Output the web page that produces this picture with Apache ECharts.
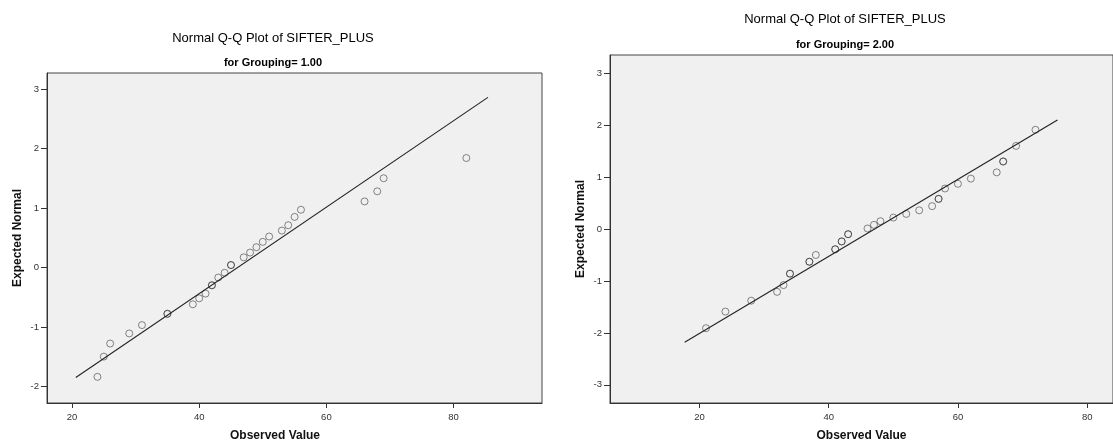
<!DOCTYPE html>
<html>
<head>
<meta charset="utf-8">
<script src="https://cdn.jsdelivr.net/npm/echarts@6/dist/echarts.min.js"></script>
<style>
html,body{margin:0;padding:0;background:#fff;}
#c{width:1113px;height:447px;}
</style>
</head>
<body>
<div id="c"></div>
<script>
// ---- Data ----
const mainTitle = "Normal Q-Q Plot of SIFTER_PLUS";
const subTitle1 = "for Grouping= 1.00";
const subTitle2 = "for Grouping= 2.00";
const xName = "Observed Value";
const yName = "Expected Normal";

const xTicks = [20, 40, 60, 80];
const yTicks1 = [-2, -1, 0, 1, 2, 3];
const yTicks2 = [-3, -2, -1, 0, 1, 2, 3];

// Grouping = 1.00 (tied values repeated)
const obs1 = [24,25,26,29,31,35,35,39,40,41,42,42,43,44,45,45,47,48,49,50,51,53,54,55,56,66,68,69,82];
const exp1 = [-1.84,-1.50,-1.28,-1.11,-0.97,-0.78,-0.78,-0.62,-0.52,-0.44,-0.30,-0.30,-0.17,-0.09,0.04,0.04,0.17,0.25,0.34,0.43,0.52,0.62,0.71,0.85,0.97,1.11,1.28,1.50,1.84];
const line1X = [20.6, 85.4];
const line1Y = [-1.85, 2.86];

// Grouping = 2.00
const obs2 = [21,24,28,32,33,34,34,37,37,38,41,41,42,42,43,43,46,47,48,50,52,54,56,57,57,58,60,62,66,67,67,69,72];
const exp2 = [-1.91,-1.59,-1.38,-1.21,-1.08,-0.86,-0.86,-0.63,-0.63,-0.50,-0.39,-0.39,-0.24,-0.24,-0.10,-0.10,0.01,0.08,0.15,0.22,0.29,0.36,0.44,0.58,0.58,0.78,0.87,0.97,1.09,1.30,1.30,1.60,1.91];
const line2X = [17.7, 75.4];
const line2Y = [-2.18, 2.10];

// ---- Build ----
const zip = (a, b) => a.map((v, i) => [v, b[i]]);
const FONT = "'Liberation Sans', Arial, sans-serif";

function xAxisCfg(idx, min, max, pad) {
  return {
    type: 'value', gridIndex: idx, min: min, max: max,
    name: xName, nameLocation: 'middle', nameGap: 27,
    nameTextStyle: {fontFamily: FONT, fontWeight: 'bold', fontSize: 12, color: '#111', padding: pad},
    axisLine: {show: true, onZero: false, lineStyle: {color: '#333', width: 1}},
    axisTick: {show: true, length: 5, customValues: xTicks, lineStyle: {color: '#333'}},
    axisLabel: {customValues: xTicks, margin: 9, fontFamily: FONT, fontSize: 9.5, color: '#333'},
    splitLine: {show: false}
  };
}
function yAxisCfg(idx, min, max, ticks) {
  return {
    type: 'value', gridIndex: idx, min: min, max: max,
    name: yName, nameLocation: 'middle', nameGap: 23,
    nameTextStyle: {fontFamily: FONT, fontWeight: 'bold', fontSize: 12, color: '#111'},
    axisLine: {show: true, onZero: false, lineStyle: {color: '#333', width: 1}},
    axisTick: {show: true, length: 6, customValues: ticks, lineStyle: {color: '#333'}},
    axisLabel: {customValues: ticks, margin: 8, fontFamily: FONT, fontSize: 9.5, color: '#333'},
    splitLine: {show: false}
  };
}
const scatterStyle = {color: 'transparent', borderColor: 'rgba(30,30,30,0.65)', borderWidth: 1};

const option = {
  animation: false,
  backgroundColor: '#ffffff',
  title: [
    {text: mainTitle, left: 273, top: 32, padding: 0, textAlign: 'center',
     textStyle: {fontFamily: FONT, fontSize: 13, fontWeight: 'normal', color: '#000'}},
    {text: subTitle1, left: 273, top: 57, padding: 0, textAlign: 'center',
     textStyle: {fontFamily: FONT, fontSize: 11, fontWeight: 'bold', color: '#000'}},
    {text: mainTitle, left: 845, top: 13, padding: 0, textAlign: 'center',
     textStyle: {fontFamily: FONT, fontSize: 13, fontWeight: 'normal', color: '#000'}},
    {text: subTitle2, left: 845, top: 39, padding: 0, textAlign: 'center',
     textStyle: {fontFamily: FONT, fontSize: 11, fontWeight: 'bold', color: '#000'}}
  ],
  grid: [
    {left: 47, top: 73, width: 495, height: 335, show: true, backgroundColor: '#f0f0f0', borderColor: '#444', borderWidth: 1},
    {left: 610, top: 55, width: 517, height: 351, show: true, backgroundColor: '#f0f0f0', borderColor: '#444', borderWidth: 1}
  ],
  xAxis: [xAxisCfg(0, 16.07, 93.9, [0, 39, 0, 0]), xAxisCfg(1, 6.14, 84, [0, 0, 0, 0])],
  yAxis: [yAxisCfg(0, -2.28, 3.27, yTicks1), yAxisCfg(1, -3.35, 3.35, yTicks2)],
  series: [
    {type: 'line', xAxisIndex: 0, yAxisIndex: 0, data: zip(line1X, line1Y), symbol: 'none',
     lineStyle: {color: '#222', width: 1.1}, silent: true},
    {type: 'scatter', xAxisIndex: 0, yAxisIndex: 0, data: zip(obs1, exp1), symbol: 'circle', symbolSize: 7,
     itemStyle: scatterStyle},
    {type: 'line', xAxisIndex: 1, yAxisIndex: 1, data: zip(line2X, line2Y), symbol: 'none',
     lineStyle: {color: '#222', width: 1.1}, silent: true},
    {type: 'scatter', xAxisIndex: 1, yAxisIndex: 1, data: zip(obs2, exp2), symbol: 'circle', symbolSize: 7,
     itemStyle: scatterStyle}
  ]
};
const chart = echarts.init(document.getElementById('c'), null, {renderer: 'canvas'});
chart.setOption(option);
</script>
</body>
</html>
